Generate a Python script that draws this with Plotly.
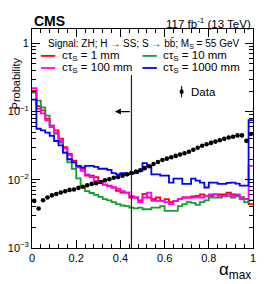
import numpy as np
import plotly.graph_objects as go

# ---------------- data ----------------
bin_edges = np.linspace(0.0, 1.0, 51)
bin_centers = 0.5 * (bin_edges[:-1] + bin_edges[1:])

ct_1mm = [0.20, 0.12, 0.104, 0.079, 0.062, 0.053, 0.040, 0.030, 0.024, 0.019,
          0.016, 0.0145, 0.0115, 0.0115, 0.0109, 0.0090, 0.0085, 0.0082, 0.0077, 0.0069,
          0.0065, 0.0065, 0.0055, 0.0055, 0.0050, 0.0062, 0.0055, 0.0052, 0.0055, 0.0049,
          0.0052, 0.0047, 0.0049, 0.0052, 0.0055, 0.0055, 0.0057, 0.0058, 0.0061, 0.0058,
          0.0058, 0.0061, 0.0061, 0.0061, 0.0065, 0.0061, 0.0058, 0.0055, 0.0052, 0.0044]

ct_10mm = [0.19, 0.145, 0.115, 0.087, 0.062, 0.047, 0.035, 0.025, 0.018, 0.0145,
           0.0105, 0.0078, 0.0068, 0.0064, 0.0060, 0.0056, 0.0052, 0.0050, 0.0047, 0.0044,
           0.0042, 0.0041, 0.0039, 0.0038, 0.0039, 0.0037, 0.0037, 0.0039, 0.0039, 0.0041,
           0.0035, 0.0035, 0.0035, 0.0041, 0.0044, 0.0047, 0.0046, 0.0043, 0.0047, 0.0050,
           0.0055, 0.0055, 0.0055, 0.0058, 0.0057, 0.0055, 0.0057, 0.0055, 0.0047, 0.0050]

ct_100mm = [0.22, 0.11, 0.094, 0.074, 0.059, 0.049, 0.037, 0.029, 0.023, 0.018,
            0.0152, 0.0135, 0.012, 0.0109, 0.0096, 0.0096, 0.0085, 0.0080, 0.0077, 0.0074,
            0.0068, 0.0065, 0.0058, 0.0055, 0.0047, 0.0055, 0.0065, 0.0049, 0.0049, 0.0049,
            0.0047, 0.0044, 0.0049, 0.0052, 0.0055, 0.0055, 0.0055, 0.0055, 0.0055, 0.0058,
            0.0061, 0.0061, 0.0058, 0.0058, 0.0061, 0.0058, 0.0061, 0.0052, 0.0052, 0.016]

ct_1000mm = [0.15, 0.056, 0.053, 0.049, 0.044, 0.037, 0.032, 0.025, 0.020, 0.018,
             0.016, 0.0152, 0.016, 0.016, 0.0155, 0.0145, 0.0145, 0.0140, 0.0125, 0.0120,
             0.0125, 0.0120, 0.0123, 0.0125, 0.0135, 0.0175, 0.016, 0.012, 0.012, 0.0115,
             0.0115, 0.0091, 0.0104, 0.0104, 0.0087, 0.0087, 0.0104, 0.0097, 0.0091, 0.0077,
             0.0091, 0.0091, 0.0087, 0.0087, 0.0090, 0.0091, 0.0088, 0.0082, 0.0082, 0.075]

data_vals = [0.0049, 0.0038, 0.0050, 0.0055, 0.0059, 0.0062, 0.0065, 0.0068, 0.0071, 0.0072,
             0.0076, 0.0079, 0.0083, 0.0087, 0.0089, 0.0093, 0.0098, 0.0102, 0.0107, 0.0110,
             0.0115, 0.0120, 0.0126, 0.0132, 0.0138, 0.0148, 0.0158, 0.0170, 0.0182, 0.0195,
             0.0204, 0.0214, 0.0224, 0.0234, 0.0245, 0.0257, 0.0275, 0.0295, 0.0316, 0.0331,
             0.0347, 0.0363, 0.0380, 0.0398, 0.0417, 0.0427, 0.0447, 0.0447, 0.0372, 0.0468]

series_labels = ["cτ<sub>S</sub> = 1 mm", "cτ<sub>S</sub> = 10 mm",
                 "cτ<sub>S</sub> = 100 mm", "cτ<sub>S</sub> = 1000 mm"]
cut_value = 0.45
x_tick_vals = [0, 0.2, 0.4, 0.6, 0.8, 1]
x_tick_text = ["0", "0.2", "0.4", "0.6", "0.8", "1"]
y_tick_vals = [0.001, 0.01, 0.1, 1]
y_tick_text = ["10<sup>−3</sup>", "10<sup>−2</sup>", "10<sup>−1</sup>", "1"]

# ---------------- style ----------------
FONT = "Liberation Sans, Arial, Helvetica, sans-serif"
colors = ["#ff0000", "#14a02c", "#ff00ff", "#0000ff"]
series = [ct_1mm, ct_10mm, ct_100mm, ct_1000mm]

fig = go.Figure()
for vals, col in zip(series, colors):
    fig.add_trace(go.Scatter(
        x=bin_edges, y=list(vals) + [vals[-1]], mode="lines",
        line=dict(shape="hv", color=col, width=1.8),
        showlegend=False, hoverinfo="skip"))

fig.add_trace(go.Scatter(
    x=bin_centers, y=data_vals, mode="markers",
    marker=dict(color="black", size=4.6), showlegend=False))

# cut line and arrow
fig.add_shape(type="line", xref="x", yref="paper", x0=cut_value, x1=cut_value,
              y0=0, y1=0.79, line=dict(color="#222222", width=1.2))
fig.add_annotation(x=0.375, y=-1, ax=cut_value, ay=-1, xref="x", yref="y",
                   axref="x", ayref="y", showarrow=True, arrowhead=2,
                   arrowsize=1, arrowwidth=1.2, arrowcolor="black", text="")

minor_y = [m * 10.0 ** e for e in range(-3, 1) for m in range(2, 10)]

fig.update_layout(
    width=266, height=284,
    margin=dict(l=32, r=13, t=29, b=36),
    paper_bgcolor="white", plot_bgcolor="white",
    font=dict(family=FONT, size=11, color="black"),
    xaxis=dict(range=[0, 1], tickvals=x_tick_vals, ticktext=x_tick_text,
               ticks="inside", ticklen=8, tickwidth=1, tickcolor="black",
               showline=True, linecolor="black", linewidth=1, mirror="allticks",
               showgrid=False, zeroline=False, automargin=False,
               minor=dict(ticks="inside", ticklen=4, dtick=0.04, tickcolor="black",
                          showgrid=False),
               tickfont=dict(size=11)),
    yaxis=dict(type="log", range=[-3, 0.21], tickvals=y_tick_vals, ticktext=y_tick_text,
               ticks="inside", ticklen=8, tickwidth=1, tickcolor="black",
               showline=True, linecolor="black", linewidth=1, mirror="allticks",
               showgrid=False, zeroline=False, automargin=False,
               minor=dict(ticks="inside", ticklen=4, tickvals=minor_y, tickcolor="black",
                          showgrid=False),
               tickfont=dict(size=11)),
)

# texts
fig.add_annotation(x=0, y=1.0, xref="paper", yref="paper", xanchor="left", yanchor="bottom",
                   text="<b>CMS</b>", showarrow=False, font=dict(size=14), yshift=-2)
fig.add_annotation(x=1, y=1.0, xref="paper", yref="paper", xanchor="right", yanchor="bottom",
                   text="117 fb<sup>-1</sup> (13 TeV)", showarrow=False, font=dict(size=11.5),
                   yshift=-3)
fig.add_annotation(x=-0.108, y=0.88, xref="paper", yref="paper", textangle=-90,
                   text="Probability", showarrow=False, font=dict(size=11))
fig.add_annotation(x=1, y=-0.105, xref="paper", yref="paper", xanchor="right", yanchor="middle",
                   text="α<sub>max</sub>", showarrow=False, font=dict(size=17))

fig.add_annotation(x=0.505, y=0.936, xref="paper", yref="paper", xanchor="center", yanchor="middle",
                   text="Signal: ZH; H → SS; S → bb̄; M<sub>S</sub> = 55 GeV",
                   showarrow=False, font=dict(size=10))

leg_pos = [(0.04, 0.877), (0.50, 0.877), (0.04, 0.822), (0.50, 0.822)]
for (lx, ly), lab, col in zip(leg_pos, series_labels, colors):
    fig.add_shape(type="line", xref="paper", yref="paper", x0=lx, x1=lx + 0.065,
                  y0=ly, y1=ly, line=dict(color=col, width=1.8))
    fig.add_annotation(x=lx + 0.085, y=ly, xref="paper", yref="paper", xanchor="left",
                       yanchor="middle", text=lab, showarrow=False, font=dict(size=11.5))

# data legend
fig.add_shape(type="line", xref="paper", yref="paper", x0=0.677, x1=0.677,
              y0=0.688, y1=0.740, line=dict(color="black", width=1))
fig.add_shape(type="circle", xref="paper", yref="paper", x0=0.668, x1=0.686,
              y0=0.703, y1=0.725, fillcolor="black", line=dict(color="black", width=0))
fig.add_annotation(x=0.71, y=0.714, xref="paper", yref="paper", xanchor="left",
                   yanchor="middle", text="Data", showarrow=False, font=dict(size=11.5))

fig.write_html("out.html", config={"displayModeBar": False},
               post_script="document.body.style.margin='0';document.body.style.overflow='hidden';")
